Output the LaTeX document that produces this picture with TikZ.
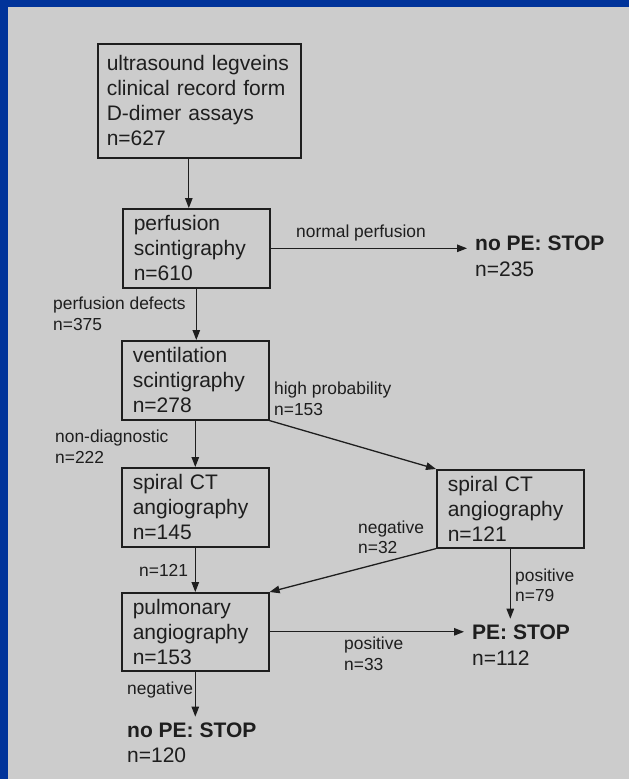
\documentclass[tikz,border=0pt]{standalone}
\usepackage{fontspec}
\setmainfont{Liberation Sans}
\usepackage{xcolor}
\usepackage{tikz}
\usetikzlibrary{arrows.meta}
\definecolor{flowBlue}{HTML}{00339A}
\definecolor{flowPanel}{HTML}{CCCCCC}
\definecolor{flowInk}{HTML}{1E1E1E}
\tikzset{
  stage/.style={
    rectangle,
    draw=flowInk,
    line width=1.6pt,
    anchor=north west,
    align=left,
    inner xsep=11pt,
    inner ysep=0pt,
    text width=125pt,
    minimum height=79pt,
    text=flowInk,
    font=\fontsize{21}{25}\selectfont
  },
  stageWide/.style={
    stage,
    inner xsep=9pt,
    text width=185pt,
    minimum height=114pt
  },
  stopNote/.style={
    anchor=west,
    align=left,
    inner xsep=8pt,
    inner ysep=6pt,
    text=flowInk,
    font=\fontsize{21}{25.5}\selectfont
  },
  branchNote/.style={
    anchor=west,
    align=left,
    inner sep=0pt,
    text=flowInk,
    font=\fontsize{17.4}{20.5}\selectfont
  },
  arrow/.style={
    -{Triangle[length=10pt,width=7.5pt]},
    line width=1.3pt,
    draw=flowInk
  }
}
\begin{document}
\begin{tikzpicture}[x=1pt,y=-1pt]
  \fill[flowBlue] (0,0) rectangle (629,779);
  \fill[flowPanel] (8,6.5) rectangle (629,779);
  \useasboundingbox (0,0) rectangle (629,779);
  \node[stageWide] (records) at (97,43) {ultrasound legveins\\clinical record form\\D-dimer assays\\n=627};
  \node[stage] (perfusion) at (122,208) {perfusion\\scintigraphy\\n=610};
  \node[stage] (ventilation) at (121,340) {ventilation\\scintigraphy\\n=278};
  \node[stage] (spiralLeft) at (121,467) {spiral CT\\angiography\\n=145};
  \node[stage,minimum height=78pt] (pulmonary) at (121,592) {pulmonary\\angiography\\n=153};
  \node[stage,minimum height=78pt] (spiralRight) at (436,469) {spiral CT\\angiography\\n=121};
  \node[stopNote] (noPeFirst) at (467,256.5) {\textbf{no PE: STOP}\\n=235};
  \node[stopNote] (peStop) at (464,645) {\textbf{PE: STOP}\\n=112};
  \node[stopNote] (noPeLast) at (119,743) {\textbf{no PE: STOP}\\n=120};
  \draw[arrow] ([xshift=-10.5pt]records.south) -- ([xshift=-10.5pt]records.south |- perfusion.north);
  \draw[arrow] (perfusion.south) -- (perfusion.south |- ventilation.north);
  \draw[arrow] (ventilation.south) -- (ventilation.south |- spiralLeft.north);
  \draw[arrow] (spiralLeft.south) -- (spiralLeft.south |- pulmonary.north);
  \draw[arrow] (pulmonary.south) -- (pulmonary.south |- noPeLast.north);
  \draw[arrow] (perfusion.east) -- (perfusion.east -| noPeFirst.west);
  \draw[arrow] (ventilation.south east) -- (spiralRight.north west);
  \draw[arrow] (spiralRight.south west) -- (pulmonary.north east);
  \draw[arrow] (spiralRight.south) -- (spiralRight.south |- peStop.north);
  \draw[arrow] (pulmonary.east) -- (pulmonary.east -| peStop.west);
  \node[branchNote] (normalNote) at (296,233) {normal perfusion};
  \node[branchNote] (defectNote) at (53,314) {perfusion defects\\n=375};
  \node[branchNote] (highNote) at (274,399) {high probability\\n=153};
  \node[branchNote] (nondiagNote) at (55,446.5) {non-diagnostic\\n=222};
  \node[branchNote] (negativeNote) at (358,537.5) {negative\\n=32};
  \node[branchNote] (passNote) at (139,570) {n=121};
  \node[branchNote] (positiveNote) at (515,585.5) {positive\\n=79};
  \node[branchNote] (confirmNote) at (344,654) {positive\\n=33};
  \node[branchNote] (rejectNote) at (127,690) {negative};
\end{tikzpicture}
\end{document}
